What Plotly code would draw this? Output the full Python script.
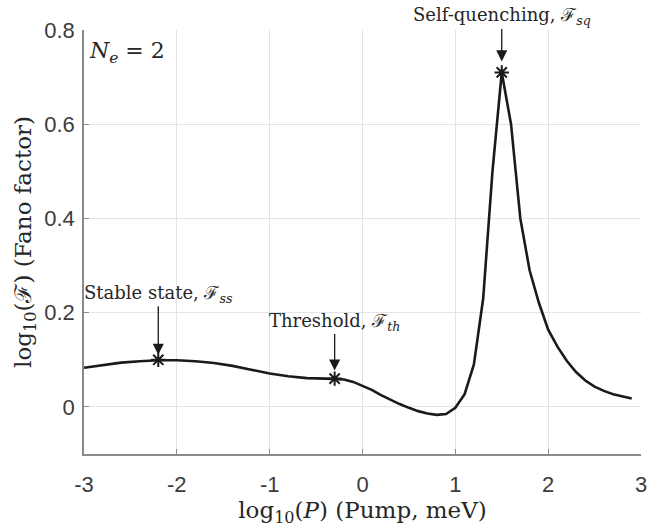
import plotly.graph_objects as go

# ---- data ----
log_pump = [-3.0, -2.8, -2.6, -2.4, -2.2, -2.0, -1.8, -1.6, -1.4, -1.2, -1.0,
            -0.8, -0.6, -0.4, -0.3, -0.2, -0.1, 0.0, 0.1, 0.2, 0.3, 0.4, 0.5,
            0.6, 0.7, 0.8, 0.9, 1.0, 1.1, 1.2, 1.3, 1.4, 1.5, 1.6, 1.7, 1.8,
            1.9, 2.0, 2.1, 2.2, 2.3, 2.4, 2.5, 2.6, 2.7, 2.8, 2.9]
log_fano = [0.083, 0.089, 0.094, 0.097, 0.099, 0.099, 0.097, 0.093, 0.087, 0.079, 0.071,
            0.065, 0.061, 0.060, 0.059, 0.058, 0.053, 0.045, 0.036, 0.025, 0.015, 0.006, -0.002,
            -0.009, -0.014, -0.017, -0.015, -0.002, 0.027, 0.090, 0.230, 0.500, 0.710, 0.600, 0.400, 0.290,
            0.221, 0.164, 0.128, 0.098, 0.074, 0.056, 0.043, 0.034, 0.027, 0.022, 0.018]

marker_x = [-2.2, -0.3, 1.5]
marker_y = [0.10, 0.06, 0.71]
marker_labels = ["Stable state, ℱ<sub><i>ss</i></sub>",
                 "Threshold, ℱ<sub><i>th</i></sub>",
                 "Self-quenching, ℱ<sub><i>sq</i></sub>"]

x_ticks = [-3, -2, -1, 0, 1, 2, 3]
x_ticktext = ["-3", "-2", "-1", "0", "1", "2", "3"]
y_ticks = [0, 0.2, 0.4, 0.6, 0.8]
y_ticktext = ["0", "0.2", "0.4", "0.6", "0.8"]

SERIF = "DejaVu Serif"
SANS = "Liberation Sans"
AXIS_GRAY = "#8a8a8a"
GRID = "#e4e4e4"
INK = "#1a1a1a"

fig = go.Figure()
fig.add_trace(go.Scatter(x=log_pump, y=log_fano, mode="lines",
                         line=dict(color=INK, width=2.6),
                         showlegend=False, hoverinfo="skip"))
fig.add_trace(go.Scatter(x=marker_x, y=marker_y, mode="markers",
                         marker=dict(symbol="asterisk-open", size=12, color=INK,
                                     line=dict(color=INK, width=2)),
                         showlegend=False, hoverinfo="skip"))

# arrow geometry (pixels): length of arrow, gap to star
arrow_len = [50, 38, 34]
arrow_gap = [5, 8, 11]
for xv, yv, lab, L, g in zip(marker_x, marker_y, marker_labels, arrow_len, arrow_gap):
    fig.add_annotation(x=xv, y=yv, xref="x", yref="y", text="", showarrow=True,
                       ax=0, ay=-(L + g), standoff=g, arrowhead=2, arrowsize=1.7,
                       arrowwidth=1.3, arrowcolor=INK)
    fig.add_annotation(x=xv, y=yv, xref="x", yref="y", text=lab, showarrow=False,
                       xanchor="center", yanchor="bottom", yshift=L + g - 3,
                       font=dict(family=SERIF, size=18, color="#262626"))

fig.add_annotation(x=-3, y=0.8, xref="x", yref="y", xanchor="left", yanchor="top",
                   xshift=3, yshift=-6, showarrow=False,
                   text="<i>N<sub>e</sub></i> = 2",
                   font=dict(family=SERIF, size=22, color="#262626"))

fig.update_xaxes(range=[-3, 3], tickvals=x_ticks, ticktext=x_ticktext,
                 showgrid=True, gridcolor=GRID, gridwidth=1, zeroline=False,
                 showline=True, linecolor=AXIS_GRAY, linewidth=1.5, automargin=False,
                 ticks="inside", ticklen=5, tickcolor=AXIS_GRAY, ticklabelstandoff=10,
                 ticklabeloverflow="allow",
                 tickfont=dict(family=SANS, size=22, color="#3c3c3c"),
                 title=dict(text="log<sub>10</sub>(<i>P</i>) (Pump, meV)",
                            font=dict(family=SERIF, size=23, color="#262626"),
                            standoff=6))
fig.update_yaxes(range=[-0.1, 0.8], tickvals=y_ticks, ticktext=y_ticktext,
                 showgrid=True, gridcolor=GRID, gridwidth=1, zeroline=False,
                 showline=True, linecolor=AXIS_GRAY, linewidth=1.5, automargin=False,
                 ticks="inside", ticklen=5, tickcolor=AXIS_GRAY, ticklabelstandoff=3,
                 ticklabeloverflow="allow",
                 tickfont=dict(family=SANS, size=22, color="#3c3c3c"),
                 title=dict(text="log<sub>10</sub>(ℱ) (Fano factor)",
                            font=dict(family=SERIF, size=23, color="#262626"),
                            standoff=6))

fig.update_layout(width=647, height=530, plot_bgcolor="white", paper_bgcolor="white",
                  margin=dict(l=84, r=6, t=30, b=76))

# remove the browser's default 8px body margin so the figure sits at the page origin
fig.write_html("out.html", config={"displayModeBar": False},
               post_script="document.body.style.margin='0';")
